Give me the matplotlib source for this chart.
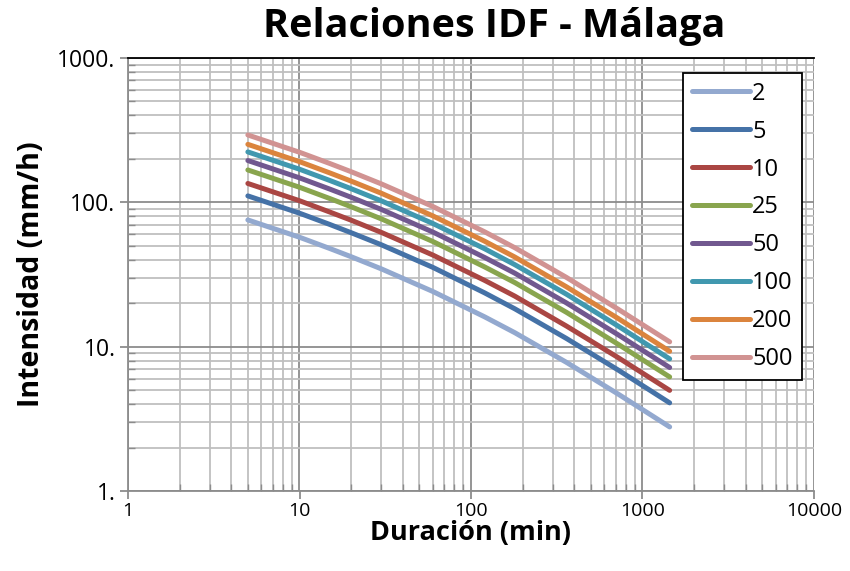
import matplotlib
matplotlib.use("Agg")
import matplotlib.pyplot as plt
from matplotlib.ticker import FixedLocator, FuncFormatter, LogLocator, NullFormatter

plt.rcParams['font.family'] = ['Open Sans', 'DejaVu Sans']

durations = [5, 10, 15, 20, 30, 60, 120, 180, 360, 720, 1440]
periods = ["2", "5", "10", "25", "50", "100", "200", "500"]

i_2 = [75.5, 57.3, 47.9, 42.0, 34.6, 24.1, 16.1, 12.5, 7.79, 4.70, 2.78]
i_5 = [110.8, 84.1, 70.3, 61.6, 50.8, 35.4, 23.6, 18.3, 11.4, 6.90, 4.08]
i_10 = [135.1, 102.6, 85.7, 75.2, 61.9, 43.1, 28.8, 22.4, 13.9, 8.41, 4.98]
i_25 = [167.6, 127.2, 106.3, 93.2, 76.8, 53.5, 35.7, 27.8, 17.3, 10.4, 6.17]
i_50 = [194.8, 147.8, 123.6, 108.4, 89.3, 62.2, 41.5, 32.3, 20.1, 12.1, 7.17]
i_100 = [223.5, 169.6, 141.8, 124.3, 102.4, 71.3, 47.7, 37.0, 23.1, 13.9, 8.23]
i_200 = [252.2, 191.4, 160.0, 140.3, 115.6, 80.5, 53.8, 41.8, 26.0, 15.7, 9.29]
i_500 = [292.9, 222.3, 185.9, 163.0, 134.2, 93.5, 62.5, 48.5, 30.2, 18.2, 10.8]

series = [i_2, i_5, i_10, i_25, i_50, i_100, i_200, i_500]
colors = ["#93A9CF", "#4572A7", "#AA4643", "#89A54E", "#71588F",
          "#4198AF", "#DB843D", "#D19392"]

x_ticks = [1, 10, 100, 1000, 10000]
y_ticks = [1, 10, 100, 1000]

fig = plt.figure(figsize=(8.5, 5.71), dpi=100)
ax = fig.add_axes([128/850, 1-491/571, (814-128)/850, (491-58)/571])

for vals, lab, c in zip(series, periods, colors):
    ax.plot(durations, vals, color=c, lw=3.6, solid_capstyle='round',
            solid_joinstyle='round', label=lab)

ax.set_xscale('log')
ax.set_yscale('log')
ax.set_xlim(x_ticks[0], x_ticks[-1])
ax.set_ylim(y_ticks[0], y_ticks[-1])

ax.xaxis.set_major_locator(FixedLocator(x_ticks))
ax.yaxis.set_major_locator(FixedLocator(y_ticks))
ax.xaxis.set_minor_locator(LogLocator(base=10, subs=range(2, 10)))
ax.yaxis.set_minor_locator(LogLocator(base=10, subs=range(2, 10)))
ax.xaxis.set_minor_formatter(NullFormatter())
ax.yaxis.set_minor_formatter(NullFormatter())
ax.xaxis.set_major_formatter(FuncFormatter(lambda v, p: f"{int(round(v))}"))
ax.yaxis.set_major_formatter(FuncFormatter(lambda v, p: f"{int(round(v))}."))

ax.grid(which='major', color='#8C8C8C', lw=1.3, zorder=0)
ax.grid(which='minor', color='#BFBFBF', lw=1.3, zorder=0)
ax.set_axisbelow(True)

for s in ['left', 'bottom']:
    ax.spines[s].set_color('#8C8C8C')
    ax.spines[s].set_linewidth(1.3)
ax.spines['right'].set_visible(False)
ax.spines['top'].set_color('black')
ax.spines['top'].set_linewidth(1.3)

ax.tick_params(which='major', direction='out', length=6, color='#8C8C8C',
               width=1.3, pad=3)
ax.tick_params(which='minor', direction='in', length=5, color='#8C8C8C', width=1.0)
ax.tick_params(axis='x', which='major', labelsize=14, pad=2)
ax.tick_params(axis='y', which='major', labelsize=16.5, pad=3)

ax.set_xlabel("Duración (min)", fontsize=19.5, fontweight='bold', labelpad=0)
ax.set_ylabel("Intensidad (mm/h)", fontsize=20.5, fontweight='bold', labelpad=8)

fig.text(494/850, 1-27/571, "Relaciones IDF - Málaga", fontsize=28.5,
         fontweight='bold', ha='center', va='center')

leg = ax.legend(loc='upper left', bbox_to_anchor=(0.809, 0.966), fontsize=17,
                frameon=True, fancybox=False, edgecolor='black',
                handlelength=2.45, handletextpad=0.1, labelspacing=0.59,
                borderpad=0.38, borderaxespad=0)
leg.get_frame().set_linewidth(1.3)
leg.get_frame().set_facecolor('white')
leg.get_frame().set_alpha(1)

fig.savefig("out.png", dpi=100)
